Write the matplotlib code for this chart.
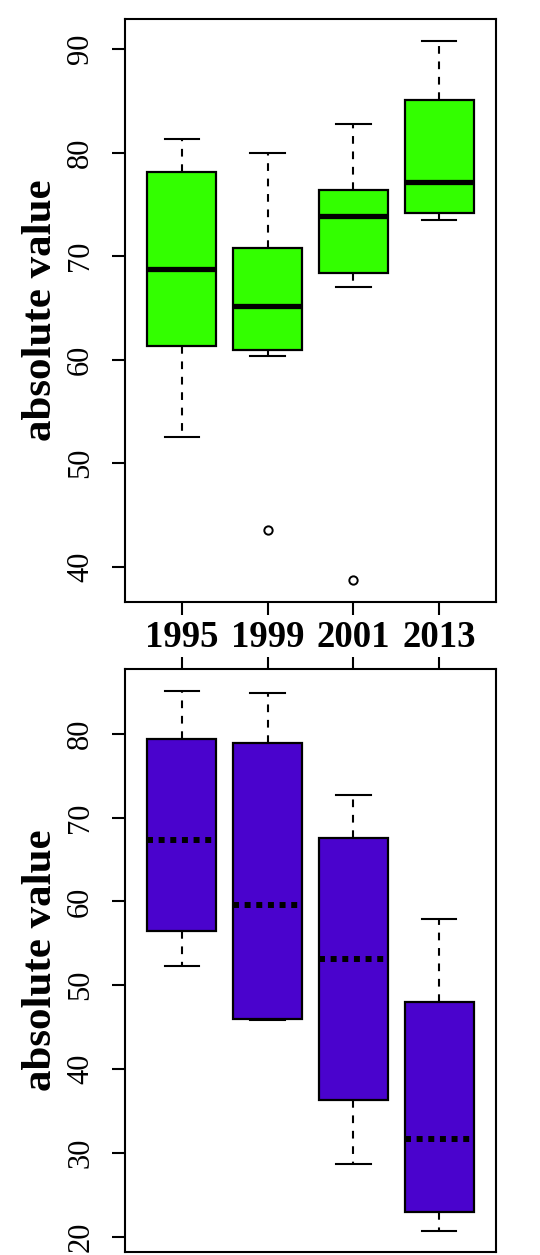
import matplotlib
matplotlib.use("Agg")
import matplotlib.pyplot as plt

plt.rcParams['font.family'] = ['Liberation Serif', 'DejaVu Serif']

years = ["1995", "1999", "2001", "2013"]

# upper panel: five-number summaries plus outliers
whislo_top = [52.5, 60.4, 67.0, 73.5]
q1_top = [61.3, 60.9, 68.4, 74.2]
med_top = [68.8, 65.2, 73.9, 77.2]
q3_top = [78.1, 70.8, 76.4, 85.1]
whishi_top = [81.3, 80.0, 82.8, 90.8]
fliers_top = [[], [43.6], [38.7], []]

# lower panel
whislo_bot = [52.3, 45.8, 28.7, 20.7]
q1_bot = [56.5, 46.0, 36.3, 23.0]
med_bot = [67.3, 59.6, 53.1, 31.7]
q3_bot = [79.4, 78.9, 67.5, 47.95]
whishi_bot = [85.05, 84.9, 72.65, 57.9]
fliers_bot = [[], [], [], []]

yticks_top = [40, 50, 60, 70, 80, 90]
yticks_bot = [20, 30, 40, 50, 60, 70, 80]


def make_stats(lo, q1, med, q3, hi, fl):
    return [dict(whislo=a, q1=b, med=c, q3=d, whishi=e, fliers=f, label=l)
            for a, b, c, d, e, f, l in zip(lo, q1, med, q3, hi, fl, years)]


fig = plt.figure(figsize=(5.4, 12.55), dpi=100)
ax1 = fig.add_axes([0.2315, 0.5203, 0.687, 0.4645])
ax2 = fig.add_axes([0.2315, 0.0024, 0.687, 0.4645])

positions = [1, 2, 3, 4]
dash = (0, (3.7, 3.7))


def draw(ax, stats, color, median_style, median_lw):
    ax.bxp(stats, positions=positions, widths=0.8, capwidths=0.4,
           patch_artist=True,
           boxprops=dict(facecolor=color, edgecolor='black', linewidth=1.6),
           whiskerprops=dict(color='black', linewidth=1.5, linestyle=dash),
           capprops=dict(color='black', linewidth=1.5),
           medianprops=dict(color='black', linewidth=median_lw,
                            linestyle=median_style, solid_capstyle='butt'),
           flierprops=dict(marker='o', markerfacecolor='none',
                           markeredgecolor='black', markersize=6,
                           markeredgewidth=1.4))
    ax.set_xlim(0.34, 4.66)
    for s in ax.spines.values():
        s.set_linewidth(1.5)
    ax.tick_params(axis='y', direction='out', length=9.5, width=1.5,
                   labelsize=22, pad=12)
    ax.set_ylabel("absolute value", fontsize=31, fontweight='bold')
    ax.yaxis.set_label_coords(-0.175, 0.5)


draw(ax1, make_stats(whislo_top, q1_top, med_top, q3_top, whishi_top, fliers_top),
     '#33FF00', '-', 3.8)
ax1.set_ylim(36.6, 92.9)
ax1.set_yticks(yticks_top)
ax1.set_yticklabels([str(v) for v in yticks_top], rotation=90, va='center')
ax1.set_xticks(positions)
ax1.set_xticklabels(years, fontsize=26.5, fontweight='bold')
ax1.tick_params(axis='x', direction='out', length=9, width=1.5, pad=4)

draw(ax2, make_stats(whislo_bot, q1_bot, med_bot, q3_bot, whishi_bot, fliers_bot),
     '#4A03CD', (0, (1, 0.95)), 4.3)
ax2.set_ylim(18.2, 87.7)
ax2.set_yticks(yticks_bot)
ax2.set_yticklabels([str(v) for v in yticks_bot], rotation=90, va='center')
ax2.set_xticks(positions)
ax2.xaxis.tick_top()
ax2.tick_params(axis='x', direction='out', length=9, width=1.5,
                labeltop=False, labelbottom=False)

fig.savefig("out.png", dpi=100)
